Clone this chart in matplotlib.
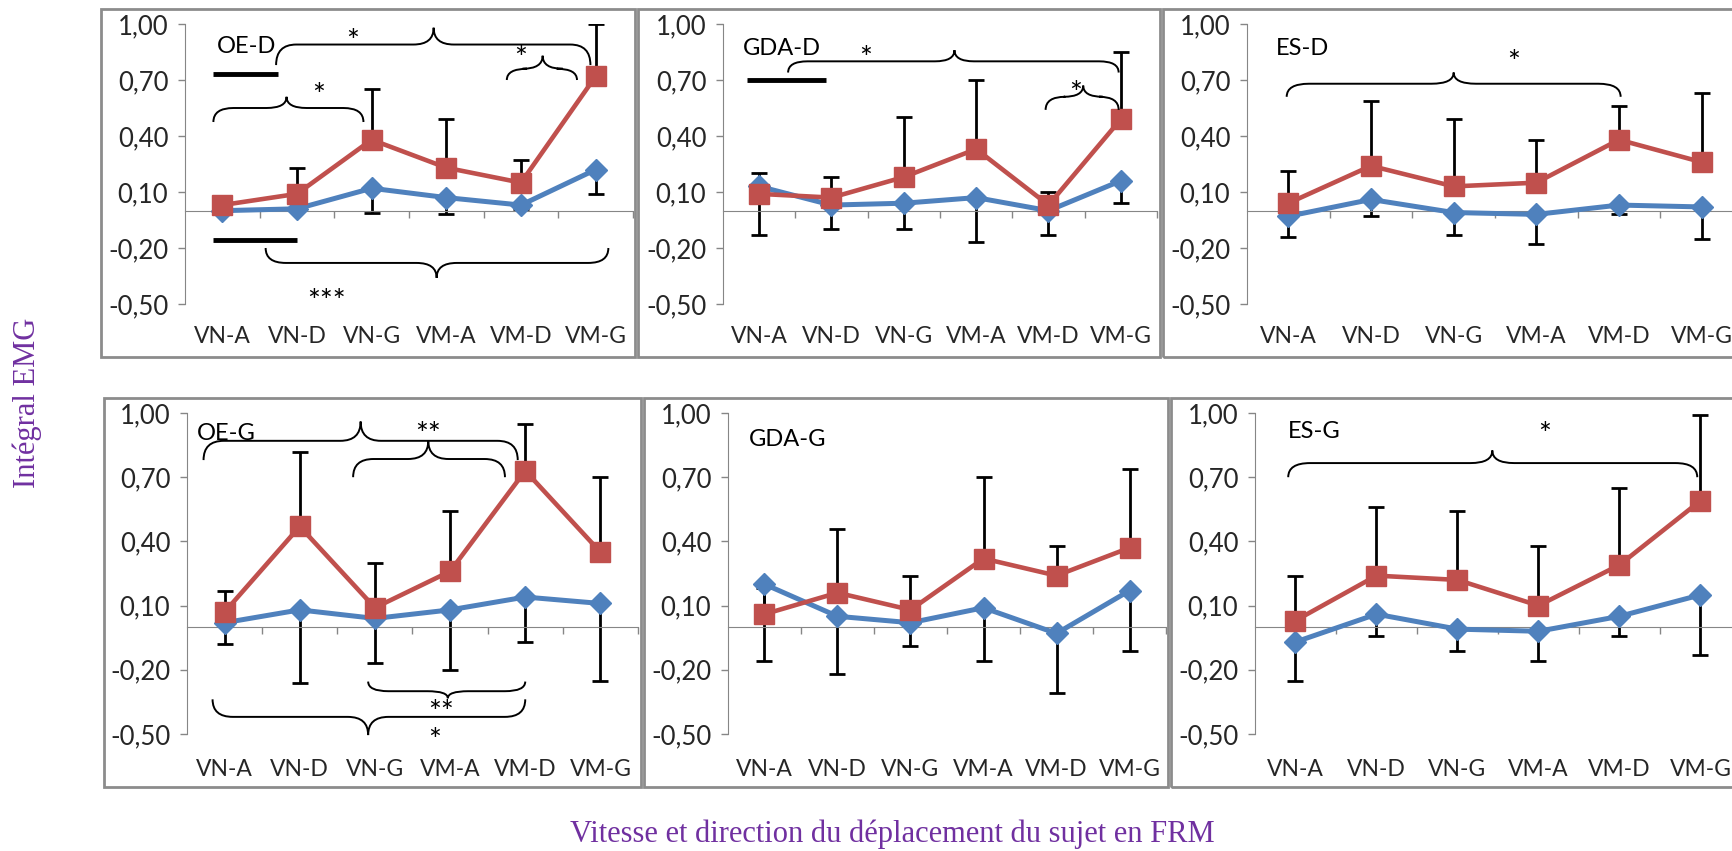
import matplotlib
matplotlib.use("Agg")
import matplotlib.pyplot as plt
import numpy as np
from matplotlib.path import Path
from matplotlib.patches import PathPatch, Rectangle
from matplotlib.ticker import FuncFormatter, FixedLocator

plt.rcParams['font.family'] = ['Lato', 'DejaVu Sans']

categories = ['VN-A', 'VN-D', 'VN-G', 'VM-A', 'VM-D', 'VM-G']
y_ticks = [-0.5, -0.2, 0.1, 0.4, 0.7, 1.0]

# blue series (diamonds) with downward error, red series (squares) with upward error
oe_d_blue = [0.00, 0.01, 0.12, 0.07, 0.03, 0.22]
oe_d_red = [0.03, 0.09, 0.38, 0.23, 0.15, 0.72]
oe_d_blue_err = [0.01, 0.01, 0.13, 0.09, 0.02, 0.13]
oe_d_red_err = [0.02, 0.14, 0.27, 0.26, 0.12, 0.28]

gda_d_blue = [0.13, 0.03, 0.04, 0.07, 0.00, 0.16]
gda_d_red = [0.09, 0.07, 0.18, 0.33, 0.03, 0.49]
gda_d_blue_err = [0.26, 0.13, 0.14, 0.24, 0.13, 0.12]
gda_d_red_err = [0.11, 0.11, 0.32, 0.37, 0.07, 0.36]

es_d_blue = [-0.03, 0.06, -0.01, -0.02, 0.03, 0.02]
es_d_red = [0.04, 0.24, 0.13, 0.15, 0.38, 0.26]
es_d_blue_err = [0.11, 0.09, 0.12, 0.16, 0.05, 0.17]
es_d_red_err = [0.17, 0.35, 0.36, 0.23, 0.18, 0.37]

oe_g_blue = [0.02, 0.08, 0.04, 0.08, 0.14, 0.11]
oe_g_red = [0.07, 0.47, 0.09, 0.26, 0.73, 0.35]
oe_g_blue_err = [0.10, 0.34, 0.21, 0.28, 0.21, 0.36]
oe_g_red_err = [0.10, 0.35, 0.21, 0.28, 0.22, 0.35]

gda_g_blue = [0.20, 0.05, 0.02, 0.09, -0.03, 0.17]
gda_g_red = [0.06, 0.16, 0.08, 0.32, 0.24, 0.37]
gda_g_blue_err = [0.36, 0.27, 0.11, 0.25, 0.28, 0.28]
gda_g_red_err = [0.12, 0.30, 0.16, 0.38, 0.14, 0.37]

es_g_blue = [-0.07, 0.06, -0.01, -0.02, 0.05, 0.15]
es_g_red = [0.03, 0.24, 0.22, 0.10, 0.29, 0.59]
es_g_blue_err = [0.18, 0.10, 0.10, 0.14, 0.09, 0.28]
es_g_red_err = [0.21, 0.32, 0.32, 0.28, 0.36, 0.40]

BLUE = '#4F81BD'
RED = '#C0504D'
AXIS_GREY = '#868686'
PURPLE = '#7030A0'
STAR_SIZE = 22

W, H = 1733, 851


def px_rect(x0, y0, x1, y1):
    return [x0 / W, 1 - y1 / H, (x1 - x0) / W, (y1 - y0) / H]


def brace(ax, x0, x1, xm, y_end, y_line, y_tip, r=0.27):
    verts = [(x0, y_end), (x0, y_line), (x0 + r, y_line),
             (xm - r, y_line), (xm, y_line), (xm, y_tip),
             (xm, y_line), (xm + r, y_line),
             (x1 - r, y_line), (x1, y_line), (x1, y_end)]
    codes = [Path.MOVETO, Path.CURVE3, Path.CURVE3,
             Path.LINETO, Path.CURVE3, Path.CURVE3,
             Path.CURVE3, Path.CURVE3,
             Path.LINETO, Path.CURVE3, Path.CURVE3]
    ax.add_patch(PathPatch(Path(verts, codes), fill=False, lw=1.4,
                           edgecolor='black', clip_on=False, zorder=6))


panels = [
    dict(title='OE-D', title_xy=(-0.07, 0.88),
         blue=oe_d_blue, red=oe_d_red, blue_err=oe_d_blue_err, red_err=oe_d_red_err,
         ax_px=(185, 24, 633, 304), box_px=(101, 9, 635, 357), pad=83,
         braces=[(0.72, 4.93, 2.83, 0.78, 0.89, 0.98),
                 (3.81, 4.75, 4.29, 0.70, 0.76, 0.83),
                 (-0.12, 1.89, 0.86, 0.475, 0.55, 0.61),
                 (0.58, 5.17, 2.87, -0.20, -0.28, -0.36)],
         stars=[(1.75, 0.95, '*'), (4.0, 0.86, '*'), (1.29, 0.66, '*'), (1.4, -0.44, '***')],
         bars=[(-0.12, 0.75, 0.73), (-0.12, 1.0, -0.157)]),
    dict(title='GDA-D', title_xy=(-0.22, 0.87),
         blue=gda_d_blue, red=gda_d_red, blue_err=gda_d_blue_err, red_err=gda_d_red_err,
         ax_px=(723, 24, 1157, 304), box_px=(638, 9, 1160, 357), pad=83,
         braces=[(0.40, 4.97, 2.70, 0.74, 0.80, 0.86),
                 (3.96, 4.97, 4.48, 0.54, 0.61, 0.67)],
         stars=[(1.47, 0.86, '*'), (4.38, 0.67, '*')],
         bars=[(-0.17, 0.92, 0.70)]),
    dict(title='ES-D', title_xy=(-0.15, 0.87),
         blue=es_d_blue, red=es_d_red, blue_err=es_d_blue_err, red_err=es_d_red_err,
         ax_px=(1247, 24, 1743, 304), box_px=(1163, 9, 1760, 357), pad=83,
         braces=[(-0.02, 4.02, 2.0, 0.61, 0.68, 0.74)],
         stars=[(2.72, 0.84, '*')],
         bars=[]),
    dict(title='OE-G', title_xy=(-0.37, 0.906),
         blue=oe_g_blue, red=oe_g_red, blue_err=oe_g_blue_err, red_err=oe_g_red_err,
         ax_px=(187, 413, 638, 734), box_px=(104, 398, 641, 787), pad=95,
         braces=[(-0.28, 3.9, 1.81, 0.78, 0.87, 0.96),
                 (1.71, 3.73, 2.71, 0.70, 0.785, 0.87),
                 (1.91, 4.0, 2.97, -0.255, -0.30, -0.333),
                 (-0.16, 4.0, 1.91, -0.338, -0.42, -0.505)],
         stars=[(2.71, 0.94, '**'), (2.88, -0.36, '**'), (2.79, -0.49, '*')],
         bars=[]),
    dict(title='GDA-G', title_xy=(-0.21, 0.875),
         blue=gda_g_blue, red=gda_g_red, blue_err=gda_g_blue_err, red_err=gda_g_red_err,
         ax_px=(728, 413, 1166, 734), box_px=(644, 398, 1168, 787), pad=95,
         braces=[], stars=[], bars=[]),
    dict(title='ES-G', title_xy=(-0.09, 0.914),
         blue=es_g_blue, red=es_g_red, blue_err=es_g_blue_err, red_err=es_g_red_err,
         ax_px=(1255, 413, 1741, 734), box_px=(1171, 398, 1760, 787), pad=95,
         braces=[(-0.09, 4.96, 2.43, 0.70, 0.766, 0.825)],
         stars=[(3.07, 0.94, '*')],
         bars=[]),
]

fig = plt.figure(figsize=(W / 100, H / 100), dpi=100)
x = np.arange(len(categories))

for p in panels:
    # chart-area frame
    fig.patches.append(Rectangle((p['box_px'][0] / W, 1 - p['box_px'][3] / H),
                                 (p['box_px'][2] - p['box_px'][0]) / W,
                                 (p['box_px'][3] - p['box_px'][1]) / H,
                                 transform=fig.transFigure, fill=False,
                                 edgecolor='#8C8C8C', lw=2.0))

    ax = fig.add_axes(px_rect(*p['ax_px']))
    ax.patch.set_alpha(0)

    blue = np.array(p['blue'])
    red = np.array(p['red'])
    zeros = np.zeros(len(x))
    ax.errorbar(x, blue, yerr=[p['blue_err'], zeros], fmt='none', ecolor='black',
                elinewidth=2.0, capsize=5.5, capthick=2.0, zorder=2)
    ax.errorbar(x, red, yerr=[zeros, p['red_err']], fmt='none', ecolor='black',
                elinewidth=2.0, capsize=5.5, capthick=2.0, zorder=2)
    ax.plot(x, blue, color=BLUE, lw=3.6, marker='D', ms=11.5,
            markeredgecolor=BLUE, zorder=3, clip_on=False)
    ax.plot(x, red, color=RED, lw=3.3, marker='s', ms=15,
            markeredgecolor=RED, zorder=4, clip_on=False)

    ax.set_xlim(-0.5, 5.5)
    ax.set_ylim(-0.5, 1.0)

    for side in ('top', 'right'):
        ax.spines[side].set_visible(False)
    ax.spines['left'].set_color(AXIS_GREY)
    ax.spines['bottom'].set_color(AXIS_GREY)
    ax.spines['bottom'].set_position(('data', 0))

    ax.set_yticks(y_ticks)
    ax.yaxis.set_major_formatter(FuncFormatter(lambda v, pos: f'{v:.2f}'.replace('.', ',')))
    ax.tick_params(axis='y', direction='out', length=5, width=1, color=AXIS_GREY,
                   labelsize=18.5, labelcolor='#262626', pad=7)

    ax.set_xticks(x)
    ax.set_xticklabels(categories)
    ax.xaxis.set_minor_locator(FixedLocator(np.arange(0.5, 6, 1.0)))
    ax.tick_params(axis='x', which='major', length=0, labelsize=16.5,
                   labelcolor='#262626', pad=p['pad'])
    ax.tick_params(axis='x', which='minor', direction='out', length=5, width=1,
                   color=AXIS_GREY)

    ax.text(p['title_xy'][0], p['title_xy'][1], p['title'], fontsize=17,
            ha='left', va='center', color='black', zorder=7)

    for b in p['braces']:
        brace(ax, *b)
    # asterisks: anchor the visual centre of the glyph on the given point
    for sx, sy, s in p['stars']:
        ax.annotate(s, (sx, sy), xytext=(0, -0.58 * STAR_SIZE), textcoords='offset points',
                    fontsize=STAR_SIZE, ha='center', va='baseline', zorder=7,
                    annotation_clip=False)
    for bx0, bx1, by in p['bars']:
        ax.plot([bx0, bx1], [by, by], color='black', lw=3.5, solid_capstyle='butt',
                clip_on=False, zorder=6)

fig.text(27 / W, 1 - 403 / H, 'Intégral EMG', rotation=90, family='Liberation Serif',
         fontsize=22, color=PURPLE, ha='center', va='center')
fig.text(892 / W, 1 - 834 / H, 'Vitesse et direction du déplacement du sujet en FRM',
         family='Liberation Serif', fontsize=22, color=PURPLE, ha='center', va='center')

fig.savefig('out.png', dpi=100)
